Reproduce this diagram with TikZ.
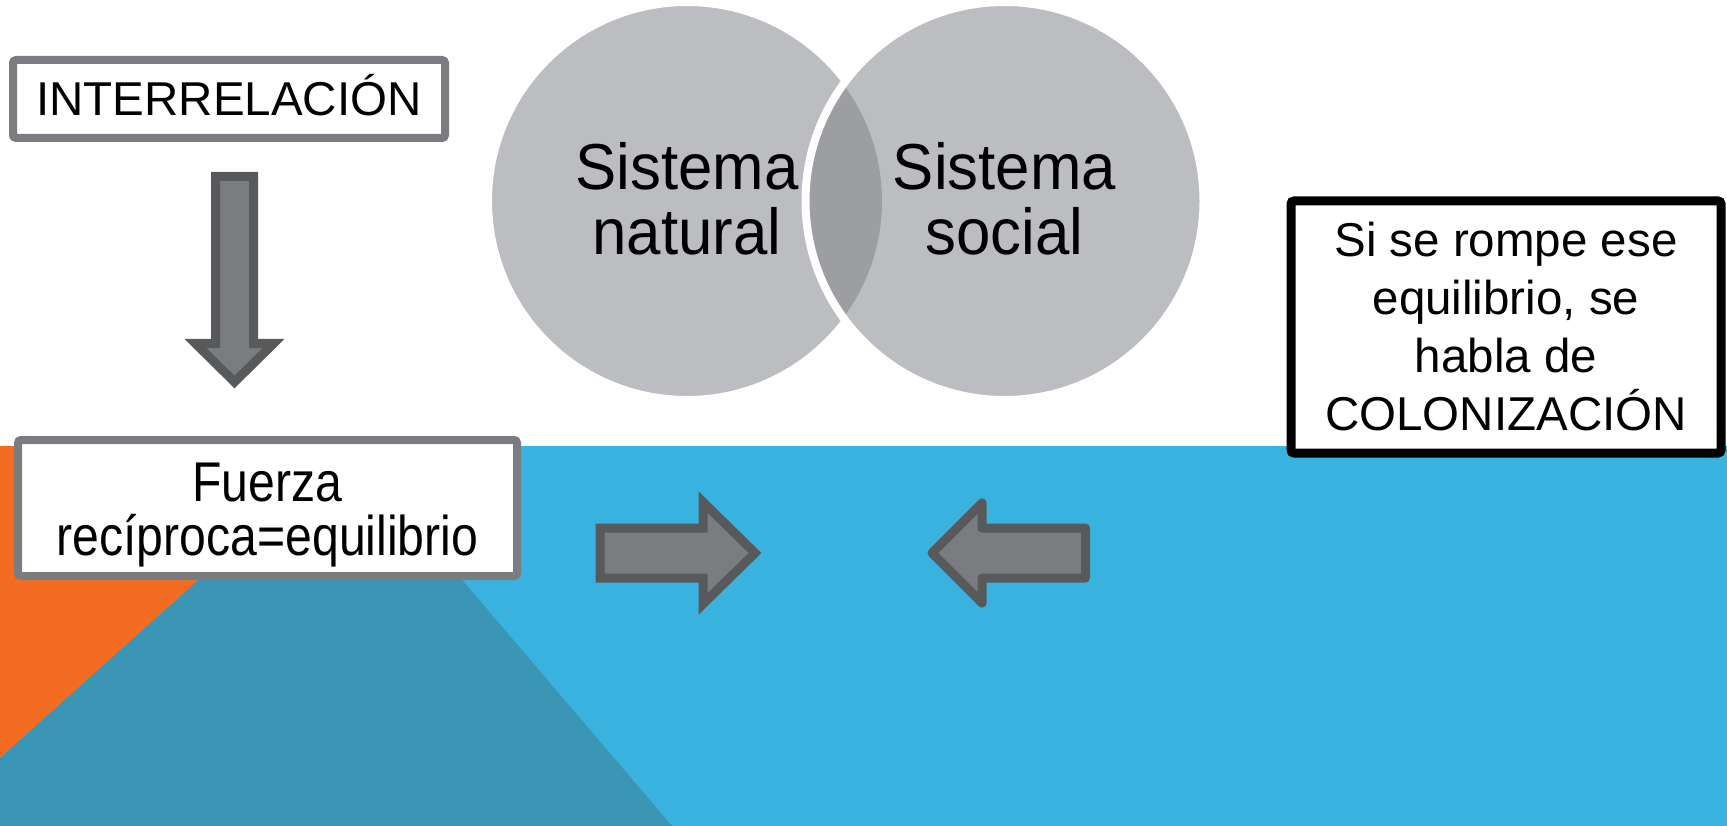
\documentclass[tikz,border=0pt]{standalone}
\usepackage{fontspec}
\setmainfont{Liberation Sans}
\newfontfamily\narrowfont{Liberation Sans}[FakeStretch=0.86]
\newfontfamily\vennfont{Liberation Sans}[FakeStretch=0.95]
\definecolor{slideblue}{HTML}{3AB2E0}
\definecolor{slideteal}{HTML}{3A96B4}
\definecolor{slideorange}{HTML}{F36C21}
\definecolor{venngray}{HTML}{BCBDC0}
\definecolor{lensgray}{HTML}{9D9EA1}
\definecolor{framegray}{HTML}{7B7C80}
\definecolor{arrowedge}{HTML}{58595B}

\begin{document}
\begin{tikzpicture}[x=1pt,y=-1pt,
  greybox/.style={draw=framegray,line width=8pt,fill=white,rounded corners=3pt,inner sep=0pt},
  blackbox/.style={draw=black,line width=9pt,fill=white,rounded corners=3pt,inner sep=0pt},
  blockarrow/.style={draw=arrowedge,fill=framegray,line width=9pt},
  venntext/.style={font=\vennfont\fontsize{65}{65}\selectfont,align=center,inner sep=0pt}]
  \useasboundingbox (0,0) rectangle (1727,826);
  \fill[white] (0,0) rectangle (1727,826);
  \fill[slideblue] (0,446) rectangle (1727,826);
  \fill[slideorange] (0,446) -- (348,446) -- (0,758) -- cycle;
  \fill[slideteal] (348,446) -- (0,758) -- (0,826) -- (672,826) -- cycle;

  \coordinate (cnat) at (687,201);
  \coordinate (csoc) at (1004.5,201);
  \fill[venngray,draw=white,line width=8pt] (cnat) circle (199pt);
  \fill[venngray] (csoc) circle (199pt);
  \begin{scope}
    \clip (cnat) circle (195pt);
    \fill[lensgray] (csoc) circle (199pt);
  \end{scope}
  \draw[white,line width=8pt] (csoc) circle (199pt);
  \node[venntext] (natural) at (687,198.5) {Sistema\\natural};
  \node[venntext] (social) at (1004.5,198.5) {Sistema\\social};

  \node[greybox,minimum width=432pt,minimum height=78pt,text height=34pt,text depth=0pt,
    font=\fontsize{47.5}{58}\selectfont] (interrel) at (229,99) {INTERRELACIÓN};
  \node[greybox,minimum width=499pt,minimum height=136pt] (fuerzabox) at (267.5,508) {};
  \node[font=\narrowfont\fontsize{56}{54}\selectfont,align=center,inner sep=0pt]
    (fuerza) at (267.5,515) {Fuerza\\recíproca=equilibrio};
  \node[blackbox,minimum width=430pt,minimum height=252pt,align=center,
    font=\fontsize{47.5}{58}\selectfont] (colon) at (1506,327)
    {Si se rompe ese\\equilibrio, se\\habla de\\COLONIZACIÓN};

  \draw[blockarrow] (215.5,176.5) -- (253.5,176.5) -- (253.5,343.5) -- (273.5,343.5)
    -- (234.5,382) -- (195.5,343.5) -- (215.5,343.5) -- cycle;
  \draw[blockarrow] (600,528) -- (703,528) -- (703,502) -- (755,553) -- (703,604)
    -- (703,578) -- (600,578) -- cycle;
  \draw[blockarrow,line join=round] (932,553) -- (982,503) -- (982,528) -- (1085.5,528)
    -- (1085.5,578) -- (982,578) -- (982,603) -- cycle;
\end{tikzpicture}
\end{document}
